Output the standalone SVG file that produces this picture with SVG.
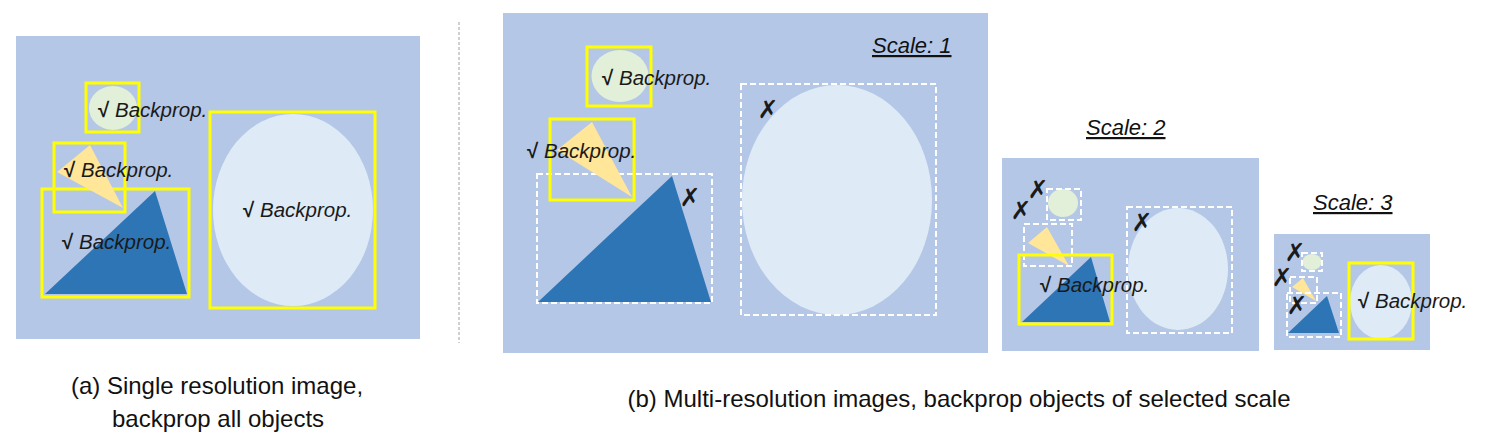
<svg xmlns="http://www.w3.org/2000/svg" width="1486" height="447" viewBox="0 0 1486 447">
<style>
.bg{fill:#B4C7E7}
.big{fill:#DEEBF7}
.grn{fill:#E2F0D9}
.ylw{fill:#FFE699}
.blu{fill:#2E75B6}
.sel{fill:none;stroke:#FFFF00;stroke-width:3}
.dash{fill:none;stroke:#FFFFFF;stroke-width:2;stroke-dasharray:6 3}
.lbl{font-family:"Liberation Sans",Arial,sans-serif;font-size:20.5px;fill:#1a1a1a}
.lbl .ck{font-weight:bold;font-style:normal}
.lbl .bp{font-style:italic}
.x{font-family:"DejaVu Sans",sans-serif;font-size:25px;fill:#1a1a1a;text-anchor:middle}
.scl{font-family:"Liberation Sans",Arial,sans-serif;font-size:22px;font-style:italic;fill:#111;text-decoration:underline}
.cap{font-family:"Liberation Sans",Arial,sans-serif;font-size:24px;fill:#111;text-anchor:middle}
</style>

<g id="panel-a">
  <rect class="bg" x="16" y="36" width="404" height="303"/>
  <g id="a-small-ellipse">
    <ellipse class="grn" cx="113" cy="108" rx="24" ry="22"/>
    <rect class="sel" x="86" y="83" width="53" height="49"/>
    <text class="lbl" x="98" y="117"><tspan class="ck">√</tspan> <tspan class="bp">Backprop.</tspan></text>
  </g>
  <g id="a-blue-triangle">
    <polygon class="blu" points="45,294 155,191 187,294"/>
    <rect class="sel" x="42" y="189" width="147" height="108"/>
    <text class="lbl" x="62" y="249"><tspan class="ck">√</tspan> <tspan class="bp">Backprop.</tspan></text>
  </g>
  <g id="a-yellow-triangle">
    <polygon class="ylw" points="90,145 57,172 123,208"/>
    <rect class="sel" x="54" y="143" width="71" height="69"/>
    <text class="lbl" x="64" y="177"><tspan class="ck">√</tspan> <tspan class="bp">Backprop.</tspan></text>
  </g>
  <g id="a-large-ellipse">
    <ellipse class="big" cx="293" cy="210" rx="80" ry="96"/>
    <rect class="sel" x="210" y="112" width="165" height="196"/>
    <text class="lbl" x="243" y="217"><tspan class="ck">√</tspan> <tspan class="bp">Backprop.</tspan></text>
  </g>
</g>

<g id="divider">
  <line x1="459" y1="22" x2="459" y2="343" stroke="#A0A0A0" stroke-width="1" stroke-dasharray="3 2"/>
</g>

<g id="scale-1">
  <rect class="bg" x="503" y="13" width="485" height="340"/>
  <text class="scl" x="872" y="53">Scale: 1</text>
  <g id="s1-small-ellipse">
    <ellipse class="grn" cx="620" cy="76" rx="28.5" ry="26"/>
    <rect class="sel" x="587" y="47" width="64" height="59"/>
    <text class="lbl" x="602" y="85"><tspan class="ck">√</tspan> <tspan class="bp">Backprop.</tspan></text>
  </g>
  <g id="s1-blue-triangle">
    <polygon class="blu" points="538,302 672,176 711,302"/>
    <rect class="dash" x="537" y="174" width="175" height="129"/>
    <text class="x" x="690" y="206">✗</text>
  </g>
  <g id="s1-yellow-triangle">
    <polygon class="ylw" points="592,122 557,150 632,197"/>
    <rect class="sel" x="550" y="119" width="84" height="81"/>
    <text class="lbl" x="527" y="158"><tspan class="ck">√</tspan> <tspan class="bp">Backprop.</tspan></text>
  </g>
  <g id="s1-large-ellipse">
    <ellipse class="big" cx="837" cy="200" rx="95" ry="115"/>
    <rect class="dash" x="741" y="84" width="195" height="231"/>
    <text class="x" x="768" y="118">✗</text>
  </g>
</g>

<g id="scale-2">
  <text class="scl" x="1086" y="135">Scale: 2</text>
  <rect class="bg" x="1002" y="158" width="257" height="193"/>
  <g id="s2-small-ellipse">
    <ellipse class="grn" cx="1063" cy="203" rx="15" ry="14"/>
    <rect class="dash" x="1047" y="189" width="34" height="31"/>
    <text class="x" x="1038" y="198">✗</text>
  </g>
  <g id="s2-yellow-triangle">
    <polygon class="ylw" points="1047,227 1028,243 1069,266"/>
    <rect class="dash" x="1024" y="224" width="48" height="42"/>
    <text class="x" x="1021" y="219">✗</text>
  </g>
  <g id="s2-large-ellipse">
    <ellipse class="big" cx="1178" cy="269" rx="50" ry="61"/>
    <rect class="dash" x="1127" y="207" width="105" height="126"/>
    <text class="x" x="1142" y="231">✗</text>
  </g>
  <g id="s2-blue-triangle">
    <polygon class="blu" points="1022,322 1091,257 1110,322"/>
    <rect class="sel" x="1019" y="255" width="93" height="69"/>
    <text class="lbl" x="1040" y="292"><tspan class="ck">√</tspan> <tspan class="bp">Backprop.</tspan></text>
  </g>
</g>

<g id="scale-3">
  <text class="scl" x="1313" y="210">Scale: 3</text>
  <rect class="bg" x="1274" y="234" width="156" height="116"/>
  <g id="s3-small-ellipse">
    <ellipse class="grn" cx="1312" cy="262" rx="9.5" ry="8"/>
    <rect class="dash" x="1302" y="253" width="20" height="18"/>
    <text class="x" x="1295" y="261">✗</text>
  </g>
  <g id="s3-yellow-triangle">
    <polygon class="ylw" points="1303,278 1292,287 1316,301"/>
    <rect class="dash" x="1290" y="277" width="27" height="26"/>
    <text class="x" x="1282" y="286">✗</text>
  </g>
  <g id="s3-blue-triangle">
    <polygon class="blu" points="1288,333 1327,296 1339,333"/>
    <rect class="dash" x="1287" y="293" width="54" height="44"/>
    <text class="x" x="1297" y="314">✗</text>
  </g>
  <g id="s3-large-ellipse">
    <ellipse class="big" cx="1381" cy="302" rx="31" ry="37"/>
    <rect class="sel" x="1349" y="263" width="64" height="76"/>
    <text class="lbl" x="1358" y="308"><tspan class="ck">√</tspan> <tspan class="bp">Backprop.</tspan></text>
  </g>
</g>

<g id="captions">
  <text class="cap" x="217" y="394">(a) Single resolution image,</text>
  <text class="cap" x="218" y="427">backprop all objects</text>
  <text class="cap" x="959" y="407">(b) Multi-resolution images, backprop objects of selected scale</text>
</g>
</svg>
